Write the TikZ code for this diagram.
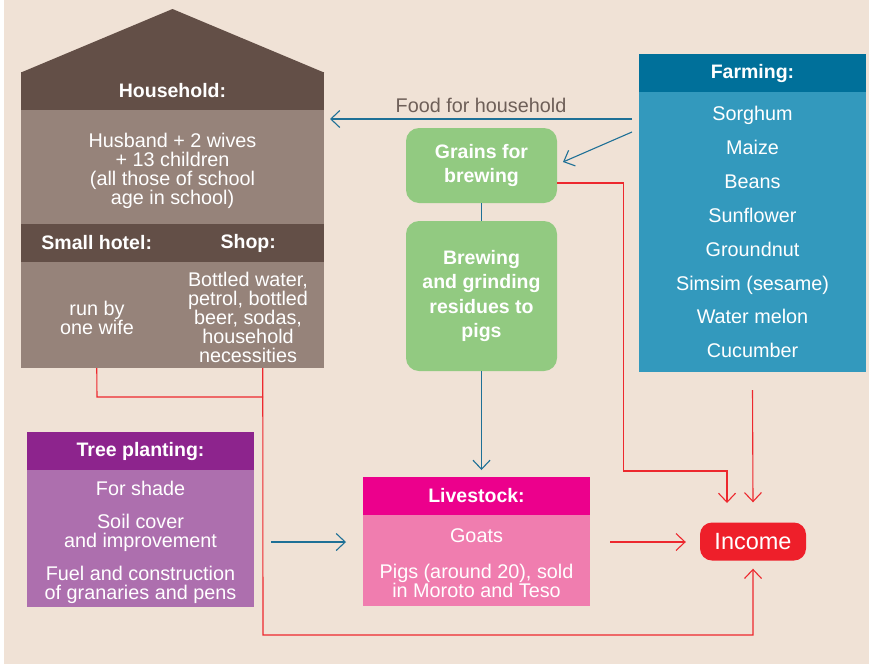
\documentclass[tikz,border=0pt]{standalone}
\usepackage{fontspec}
\setmainfont{Liberation Sans}
\usetikzlibrary{arrows.meta,positioning}

\definecolor{bgBeige}{RGB}{240,226,214}
\definecolor{houseDark}{RGB}{99,79,71}
\definecolor{houseLight}{RGB}{150,131,122}
\definecolor{farmDark}{RGB}{0,112,154}
\definecolor{farmLight}{RGB}{51,153,189}
\definecolor{grainGreen}{RGB}{146,202,129}
\definecolor{treeDark}{RGB}{141,36,141}
\definecolor{treeLight}{RGB}{173,111,174}
\definecolor{stockDark}{RGB}{236,0,140}
\definecolor{stockLight}{RGB}{240,125,175}
\definecolor{incomeRed}{RGB}{238,31,42}
\definecolor{linkBlue}{RGB}{30,112,150}
\definecolor{linkRed}{RGB}{237,40,46}
\definecolor{foodGray}{RGB}{110,95,88}

\tikzset{
    panel/.style={inner sep=0pt, outer sep=0pt, anchor=north west},
    headtext/.style={text=white, font=\bfseries\fontsize{19.5}{19}\selectfont},
    bodytext/.style={text=white, align=center, inner sep=0pt, font=\fontsize{19.8}{19}\selectfont},
    itemtext/.style={bodytext, text height=14.5pt, text depth=4pt},
    greenbox/.style={panel, fill=grainGreen, rounded corners=13pt, minimum width=151pt,
        align=center, text=white, font=\bfseries\fontsize{19.5}{24.3}\selectfont},
    blueLink/.style={draw=linkBlue, line width=1.1pt, -{Straight Barb[length=9pt,width=17pt]}},
    redLink/.style={draw=linkRed, line width=1.1pt, -{Straight Barb[length=9pt,width=17pt]}},
    redLine/.style={draw=linkRed, line width=1.1pt}
}

\begin{document}
\begin{tikzpicture}[x=1pt, y=-1pt]
    \useasboundingbox (0,0) rectangle (869,664);
    \fill[white] (0,0) rectangle (869,664);
    \fill[bgBeige] (4,0) rectangle (869,664);

    %% household house
    \fill[houseDark] (21,72.5) -- (172.5,9) -- (324,72.5) -- cycle;
    \node[panel, fill=houseDark, minimum width=303pt, minimum height=38pt, headtext] (houseHead) at (21,72) {Household:};
    \node[panel, fill=houseLight, minimum width=303pt, minimum height=114pt] (houseBody) at (21,110) {};
    \node[bodytext] (family) at (172.5,170.5) {Husband + 2 wives\\+ 13 children\\(all those of school\\age in school)};
    \node[panel, fill=houseDark, minimum width=151.5pt, minimum height=38pt, headtext] (hotelHead) at (21,224) {Small hotel:};
    \node[panel, fill=houseDark, minimum width=151.5pt, minimum height=38pt, headtext] (shopHead) at (172.5,224) {Shop:};
    \node[panel, fill=houseLight, minimum width=151.5pt, minimum height=106pt] (hotelBody) at (21,262) {};
    \node[panel, fill=houseLight, minimum width=151.5pt, minimum height=106pt] (shopBody) at (172.5,262) {};
    \node[bodytext] (hotelText) at (97,318) {run by\\one wife};
    \node[bodytext] (shopText) at (248,317.5) {\fontsize{19.8}{18.5}\selectfont Bottled water,\\petrol, bottled\\beer, sodas,\\household\\necessities};

    %% farming
    \node[panel, fill=farmDark, minimum width=227pt, minimum height=38pt, headtext] (farmHead) at (639,54) {Farming:};
    \node[panel, fill=farmLight, minimum width=227pt, minimum height=280pt] (farmBody) at (639,92) {};
    \foreach \crop [count=\i from 0] in {Sorghum, Maize, Beans, Sunflower, Groundnut, Simsim (sesame), Water melon, Cucumber}
    {
        \node[itemtext] (crop\i) at (752.5,115.5+33.86*\i) {\crop};
    };

    %% brewing
    \node[greenbox, minimum height=75pt] (grains) at (406,128) {Grains for\\brewing};
    \node[greenbox, minimum height=150pt] (brew) at (406,221) {Brewing\\and grinding\\residues to\\pigs};

    %% tree planting
    \node[panel, fill=treeDark, minimum width=227pt, minimum height=38pt, headtext] (treeHead) at (27,432) {Tree planting:};
    \node[panel, fill=treeLight, minimum width=227pt, minimum height=137pt] (treeBody) at (27,470) {};
    \foreach \txt/\y in {For shade/488.5, {Soil cover\\and improvement}/532.5, {Fuel and construction\\of granaries and pens}/585}
    {
        \node[bodytext] at (140.5,\y) {\txt};
    };

    %% livestock
    \node[panel, fill=stockDark, minimum width=227pt, minimum height=38pt, headtext] (stockHead) at (363,477) {Livestock:};
    \node[panel, fill=stockLight, minimum width=227pt, minimum height=91pt] (stockBody) at (363,515) {};
    \node[itemtext] (goats) at (476.5,537.5) {Goats};
    \node[bodytext] (pigs) at (476.5,581) {Pigs (around 20), sold\\in Moroto and Teso};

    %% income
    \node[fill=incomeRed, rounded corners=12pt, minimum width=106pt, minimum height=38pt, inner sep=0pt,
        text=white, font=\fontsize{23.5}{23}\selectfont] (income) at (753,541.5) {Income};

    %% food arrow
    \node[text=foodGray, inner sep=0pt, font=\fontsize{19.8}{19}\selectfont] (foodLabel) at (481,105) {Food for household};
    \coordinate (foodY) at (0,119);
    \coordinate (grainY) at (0,132);
    \coordinate (grainTipY) at (0,162);
    \coordinate (midY) at (0,542);
    \draw[blueLink] ([xshift=-7pt]farmBody.west |- foodY) -- ([xshift=6pt]houseBody.east |- foodY);
    \draw[blueLink] ([xshift=-7pt]farmBody.west |- grainY) -- ([xshift=6pt]grains.east |- grainTipY);
    \draw[draw=linkBlue, line width=1.1pt] (grains.south) -- (brew.north);
    \draw[blueLink, shorten >=7pt] (brew.south) -- (brew.south |- stockHead.north);
    \draw[blueLink] ([xshift=17pt]treeBody.east |- midY) -- ([xshift=-17pt]stockBody.west |- midY);

    %% income links
    \coordinate (grainOut) at (557,183);
    \coordinate (grainTurn) at (623.5,471);
    \coordinate (incTipA) at (727,503);
    \coordinate (shopTurn) at (263,635);
    \draw[redLink] (grainOut) -| (grainTurn) -| (incTipA);
    \draw[redLink] ([yshift=-18pt]farmBody.south) -- ([yshift=20pt]income.north);
    \draw[redLine] (hotelBody.south) -- (97,397) -- (263,397);
    \draw[redLink] ([xshift=14.5pt]shopBody.south) -- (shopTurn) -| ([yshift=-8pt]income.south);
    \draw[redLink] ([xshift=20pt]stockBody.east |- midY) -- ([xshift=-14pt]income.west |- midY);
\end{tikzpicture}
\end{document}
